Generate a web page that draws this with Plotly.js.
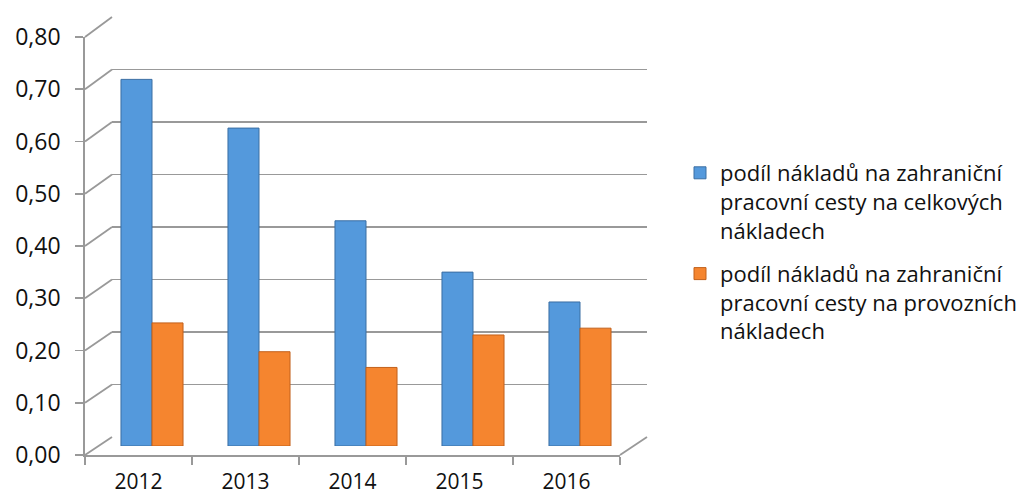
<!DOCTYPE html>
<html>
<head>
<meta charset="utf-8">
<script src="https://cdn.plot.ly/plotly-3.0.1.min.js"></script>
<style>html,body{margin:0;padding:0;background:#fff;}#chart{width:1035px;height:498px;}</style>
</head>
<body>
<div id="chart"></div>
<script>
const years = ['2012', '2013', '2014', '2015', '2016'];
const celkove = [0.70, 0.607, 0.43, 0.332, 0.275];
const provozni = [0.235, 0.18, 0.15, 0.212, 0.225];
const seriesNames = [
  'podíl nákladů na zahraniční<br>pracovní cesty na celkových<br>nákladech',
  'podíl nákladů na zahraniční<br>pracovní cesty na provozních<br>nákladech'
];
const yTicks = [0, 0.1, 0.2, 0.3, 0.4, 0.5, 0.6, 0.7, 0.8];

const W = 1035, H = 498;
const px = v => v / W;
const py = v => 1 - v / H;

// front frame, back wall, and mid-depth (bars)
const frontX = [px(85), px(620)], frontY = [py(455), py(37)];
const backX = [px(112), px(647)], backY = [py(437), py(17)];
const midX = [px(98.5), px(633.5)], midY = [py(446), py(27)];

const font = "'Open Sans', 'Noto Sans', sans-serif";
const gridCol = '#999999';
const txtCol = '#111111';

const traces = [
  {type: 'bar', x: years, y: celkove, name: seriesNames[0], xaxis: 'x3', yaxis: 'y3',
   legendgroup: 'a',
   marker: {color: '#5499dc', line: {color: '#3b6ea3', width: 1}}},
  {type: 'bar', x: years, y: provozni, name: seriesNames[1], xaxis: 'x3', yaxis: 'y3',
   legendgroup: 'b',
   marker: {color: '#f5852f', line: {color: '#c2601b', width: 1}}},
  // invisible traces to establish front and back axes
  {type: 'scatter', x: years, y: celkove.map(() => null), xaxis: 'x', yaxis: 'y', showlegend: false, hoverinfo: 'skip'},
  {type: 'scatter', x: years, y: celkove.map(() => null), xaxis: 'x2', yaxis: 'y2', showlegend: false, hoverinfo: 'skip'}
];

// side-wall diagonals connecting front axis ticks with back wall gridlines
const shapes = yTicks.map(v => {
  const f = v / 0.8;
  return {type: 'line', xref: 'paper', yref: 'paper',
    x0: frontX[0], y0: frontY[0] + f * (frontY[1] - frontY[0]),
    x1: backX[0], y1: backY[0] + f * (backY[1] - backY[0]),
    line: {color: gridCol, width: 1.8}};
});
shapes.push({type: 'line', xref: 'paper', yref: 'paper',
  x0: frontX[1], y0: frontY[0], x1: backX[1], y1: backY[0],
  line: {color: gridCol, width: 1.8}});

const layout = {
  width: W, height: H,
  margin: {l: 0, r: 0, t: 0, b: 0},
  paper_bgcolor: '#ffffff',
  plot_bgcolor: 'rgba(0,0,0,0)',
  separators: ', ',
  font: {family: font, color: txtCol, size: 20},
  showlegend: true,
  barmode: 'group',
  bargap: 0.42,
  bargroupgap: 0,
  xaxis: {domain: frontX, anchor: 'y', type: 'category', range: [-0.5, 4.5],
    showgrid: false, showline: true, linecolor: gridCol, linewidth: 1.8,
    ticks: 'outside', tickson: 'boundaries', ticklen: 8, tickcolor: gridCol, tickwidth: 1.8,
    ticklabelstandoff: 7, tickfont: {size: 21, family: font, color: txtCol}, zeroline: false, fixedrange: true},
  yaxis: {domain: frontY, anchor: 'x', range: [0, 0.8], tickvals: yTicks, tickformat: '.2f',
    showgrid: false, showline: true, linecolor: gridCol, linewidth: 1.8,
    ticks: 'outside', ticklen: 8, tickcolor: gridCol, tickwidth: 1.8,
    ticklabelstandoff: 10, tickfont: {size: 23, family: font, color: txtCol}, zeroline: false, fixedrange: true},
  xaxis2: {domain: backX, anchor: 'y2', type: 'category', range: [-0.5, 4.5],
    showgrid: false, showline: false, showticklabels: false, ticks: '', zeroline: false},
  yaxis2: {domain: backY, anchor: 'x2', range: [0, 0.8], tickvals: yTicks,
    showgrid: true, gridcolor: gridCol, gridwidth: 1.8, showticklabels: false, ticks: '',
    showline: false, zeroline: false},
  xaxis3: {domain: midX, anchor: 'y3', type: 'category', range: [-0.5, 4.5],
    showgrid: false, showline: false, showticklabels: false, ticks: '', zeroline: false},
  yaxis3: {domain: midY, anchor: 'x3', range: [0, 0.8],
    showgrid: false, showline: false, showticklabels: false, ticks: '', zeroline: false},
  legend: {x: px(680), xanchor: 'left', y: py(252), yanchor: 'middle', valign: 'top',
    font: {size: 22, family: font, color: txtCol}, tracegroupgap: 12,
    bgcolor: 'rgba(0,0,0,0)', borderwidth: 0},
  shapes: shapes
};

Plotly.newPlot('chart', traces, layout, {displayModeBar: false, staticPlot: true});
</script>
</body>
</html>
